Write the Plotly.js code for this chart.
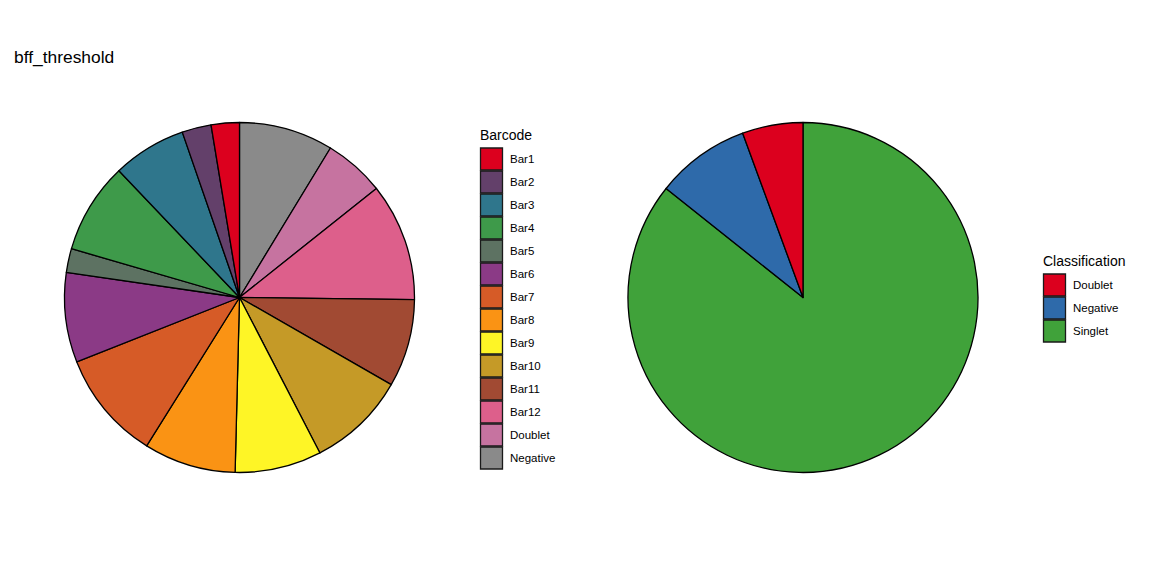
<!DOCTYPE html>
<html>
<head>
<meta charset="utf-8">
<script src="https://cdn.plot.ly/plotly-3.0.1.min.js"></script>
<style>html,body{margin:0;padding:0;background:#fff;}#chart{width:1152px;height:576px;}</style>
</head>
<body>
<div id="chart"></div>
<script>
// ---- data ----
const barcodeLabels = ["Bar1","Bar2","Bar3","Bar4","Bar5","Bar6","Bar7","Bar8","Bar9","Bar10","Bar11","Bar12","Doublet","Negative"];
const barcodeCounts = [26, 27, 68, 84, 22, 83, 101, 85, 80, 91, 81, 109, 56, 87];
const barcodeColors = ["#DC001E","#63406A","#2F768C","#3E9A4A","#5D7262","#8B3A86","#D65B27","#FA9314","#FEF526","#C59A27","#A14A33","#DD5F8B","#C673A0","#8A8A8A"];

const classLabels = ["Doublet","Negative","Singlet"];
const classCounts = [56, 87, 857];
const classColors = ["#DC001E","#2E6AAA","#40A23A"];

const W = 1152, H = 576;
const FONT = "Liberation Sans, Arial, Helvetica, sans-serif";

function px(x){ return x / W; }
function py(y){ return 1 - y / H; }
function rev(a){ return a.slice().reverse(); }

// slices run counterclockwise from 12 o'clock: draw reversed order clockwise
const traces = [
  {
    type: "pie", labels: rev(barcodeLabels), values: rev(barcodeCounts), sort: false,
    direction: "clockwise", rotation: 0, textinfo: "none", hoverinfo: "label+value",
    marker: {colors: rev(barcodeColors), line: {color: "#000000", width: 1.3}},
    domain: {x: [px(239.5 - 175), px(239.5 + 175)], y: [py(297.5 + 175), py(297.5 - 175)]},
    showlegend: false
  },
  {
    type: "pie", labels: rev(classLabels), values: rev(classCounts), sort: false,
    direction: "clockwise", rotation: 0, textinfo: "none", hoverinfo: "label+value",
    marker: {colors: rev(classColors), line: {color: "#000000", width: 1.3}},
    domain: {x: [px(803 - 175), px(803 + 175)], y: [py(297.5 + 175), py(297.5 - 175)]},
    showlegend: false
  }
];

// ---- legends built from the category arrays ----
const shapes = [];
const annotations = [];
function addLegend(title, labels, colors, x0, titleY, top){
  annotations.push({text: title, xref: "paper", yref: "paper", x: px(x0 - 2), y: py(titleY),
    xanchor: "left", yanchor: "middle", showarrow: false, font: {family: FONT, size: 14, color: "#000"}});
  labels.forEach((lab, i) => {
    const y0 = top + i * 23;
    shapes.push({type: "rect", xref: "paper", yref: "paper",
      x0: px(x0 + 0.5), x1: px(x0 + 22.5), y0: py(y0 + 0.5), y1: py(y0 + 22.5),
      fillcolor: colors[i], line: {color: "#1a1a1a", width: 1.3}});
    annotations.push({text: lab, xref: "paper", yref: "paper", x: px(x0 + 28), y: py(y0 + 11.5),
      xanchor: "left", yanchor: "middle", showarrow: false, font: {family: FONT, size: 11.5, color: "#000"}});
  });
}
addLegend("Barcode", barcodeLabels, barcodeColors, 480, 134.5, 147.5);
addLegend("Classification", classLabels, classColors, 1043, 261, 273.5);

const layout = {
  width: W, height: H,
  margin: {l: 0, r: 0, t: 0, b: 0},
  paper_bgcolor: "#ffffff", plot_bgcolor: "#ffffff",
  showlegend: false,
  font: {family: FONT, color: "#000"},
  title: {text: "bff_threshold", x: px(14), xanchor: "left", xref: "container",
          y: 1 - 57 / H, yanchor: "middle", yref: "container",
          font: {family: FONT, size: 17.4, color: "#000"}},
  shapes: shapes,
  annotations: annotations
};

Plotly.newPlot("chart", traces, layout, {displayModeBar: false, staticPlot: true});
</script>
</body>
</html>
